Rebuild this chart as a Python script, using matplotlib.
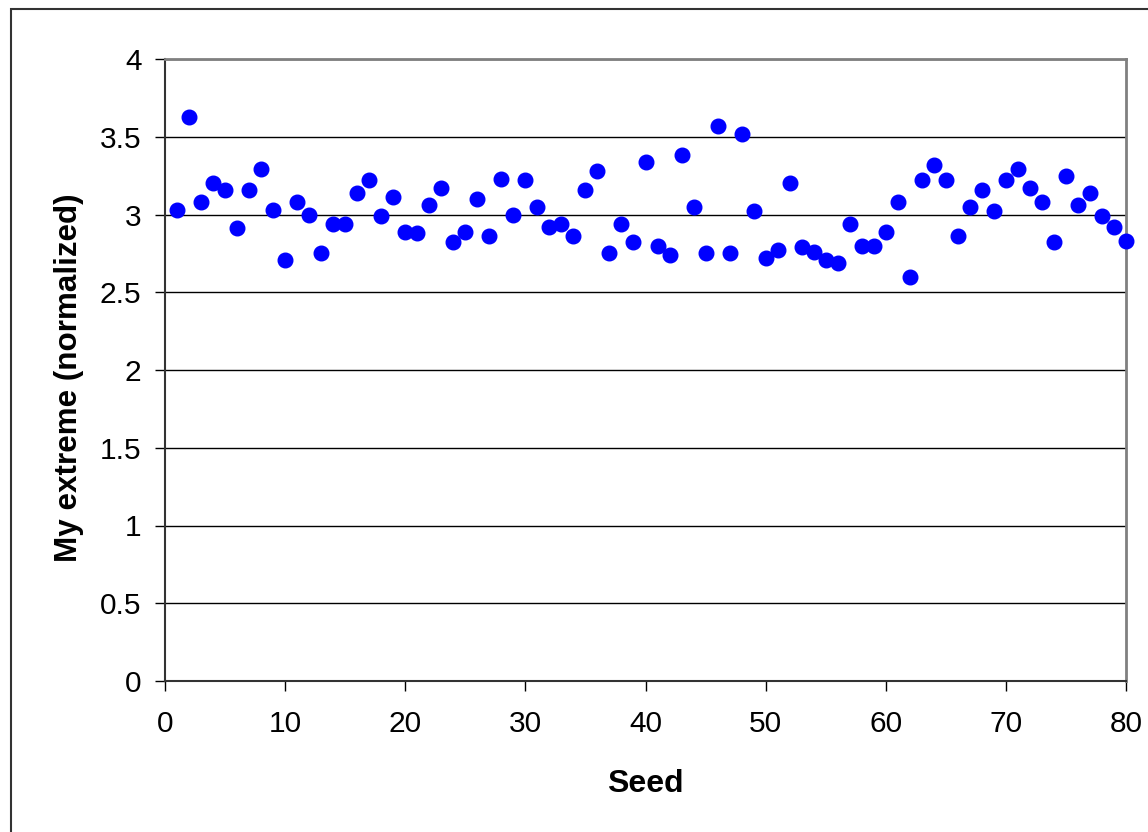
import matplotlib.pyplot as plt
from matplotlib.patches import Rectangle
from matplotlib.ticker import FuncFormatter

plt.rcParams['font.family'] = ['Liberation Sans', 'DejaVu Sans']

# seed number vs normalized extreme
SEEDS = list(range(1, 81))
EXTREME = [3.03, 3.63, 3.08, 3.20, 3.16, 2.91, 3.16, 3.29, 3.03, 2.71,
           3.08, 3.00, 2.75, 2.94, 2.94, 3.14, 3.22, 2.99, 3.11, 2.89,
           2.88, 3.06, 3.17, 2.82, 2.89, 3.10, 2.86, 3.23, 3.00, 3.22,
           3.05, 2.92, 2.94, 2.86, 3.16, 3.28, 2.75, 2.94, 2.82, 3.34,
           2.80, 2.74, 3.38, 3.05, 2.75, 3.57, 2.75, 3.52, 3.02, 2.72,
           2.77, 3.20, 2.79, 2.76, 2.71, 2.69, 2.94, 2.80, 2.80, 2.89,
           3.08, 2.60, 3.22, 3.32, 3.22, 2.86, 3.05, 3.16, 3.02, 3.22,
           3.29, 3.17, 3.08, 2.82, 3.25, 3.06, 3.14, 2.99, 2.92, 2.83]
X_TICKS = [0, 10, 20, 30, 40, 50, 60, 70, 80]
Y_TICKS = [0, 0.5, 1, 1.5, 2, 2.5, 3, 3.5, 4]

fig = plt.figure(figsize=(11.48, 8.32), dpi=100)
ax = fig.add_axes([165 / 1148, 1 - 681 / 832, (1126 - 165) / 1148, (681 - 59) / 832])

# outer chart border (runs off the right and bottom edge)
fig.patches.append(Rectangle((11 / 1148, -0.1), 1.2, 1 - 9 / 832 + 0.1,
                             transform=fig.transFigure, fill=False,
                             edgecolor='#333333', linewidth=1.5))

for y in Y_TICKS[1:]:
    ax.axhline(y, color='black', linewidth=1.0, zorder=1)

ax.plot(SEEDS, EXTREME, linestyle='none', marker='o', markersize=10.5,
        color='#0000FF', zorder=3, clip_on=False)

ax.set_xlim(0, 80)
ax.set_ylim(0, 4)
ax.set_xticks(X_TICKS)
ax.set_yticks(Y_TICKS)
ax.yaxis.set_major_formatter(FuncFormatter(lambda v, p: '%g' % v))
ax.tick_params(direction='out', length=7, width=1, labelsize=21.5, colors='black')
ax.tick_params(axis='y', pad=10)
ax.tick_params(axis='x', pad=14)

for s in ['left', 'bottom']:
    ax.spines[s].set_color('#333333')
    ax.spines[s].set_linewidth(1.5)
for s in ['top', 'right']:
    ax.spines[s].set_color('#808080')
    ax.spines[s].set_linewidth(2)

ax.set_xlabel('Seed', fontsize=23, fontweight='bold', labelpad=22)
ax.set_ylabel('My extreme (normalized)', fontsize=22.6, fontweight='bold', labelpad=11)
ax.yaxis.label.set_y(0.488)

fig.savefig('out.png', dpi=100)
